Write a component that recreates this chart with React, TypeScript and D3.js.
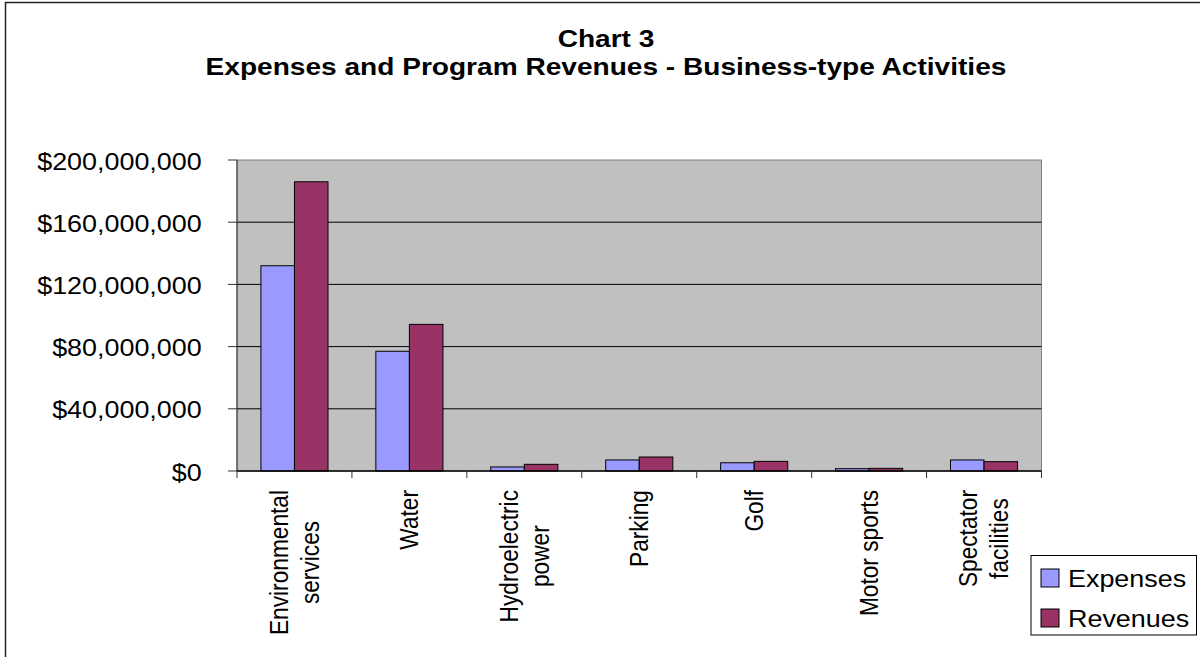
import { useEffect, useRef } from "react";
import * as d3 from "d3";

const categories = [
  "Environmental\nservices",
  "Water",
  "Hydroelectric\npower",
  "Parking",
  "Golf",
  "Motor sports",
  "Spectator\nfacilities",
];
const seriesNames = ["Expenses", "Revenues"];
const expenses = [132000000, 77000000, 2600000, 7100000, 5300000, 1500000, 7100000];
const revenues = [186000000, 94300000, 4300000, 9000000, 6200000, 1700000, 6000000];
const yTicks = [0, 40000000, 80000000, 120000000, 160000000, 200000000];
const titleLines = ["Chart 3", "Expenses and Program Revenues - Business-type Activities"];
const seriesColors = ["#9999FF", "#993366"];

const W = 1200;
const H = 657;
// the original picture is stretched horizontally, so text gets the same squash
const SX = 1.17;
const FONT = "'Liberation Sans', Arial, Helvetica, sans-serif";

export default function App() {
  const svgRef = useRef<SVGSVGElement>(null);

  useEffect(() => {
    if (!svgRef.current) return;
    const svg = d3.select(svgRef.current);
    svg.selectAll("*").remove();

    const plot = { left: 237, right: 1041.5, top: 160, bottom: 471 };
    const values = [expenses, revenues];

    const x = d3.scaleBand<string>().domain(categories).range([plot.left, plot.right]);
    const xs = d3
      .scaleBand<string>()
      .domain(seriesNames)
      .range([0, x.bandwidth()])
      .paddingOuter(0.713);
    const y = d3.scaleLinear().domain([0, 200000000]).range([plot.bottom, plot.top]);

    // Outer chart frame
    svg
      .append("rect")
      .attr("x", 5.5)
      .attr("y", 2.5)
      .attr("width", 1400)
      .attr("height", 900)
      .attr("fill", "#fff")
      .attr("stroke", "#222")
      .attr("stroke-width", 1.5);

    // Title
    titleLines.forEach((t, i) => {
      svg
        .append("g")
        .attr("transform", `translate(606,${47 + i * 27.5}) scale(${SX},1)`)
        .append("text")
        .attr("text-anchor", "middle")
        .attr("font-family", FONT)
        .attr("font-size", 24)
        .attr("font-weight", "bold")
        .attr("fill", "#000")
        .text(t);
    });

    // Plot area
    svg
      .append("rect")
      .attr("x", plot.left)
      .attr("y", plot.top)
      .attr("width", plot.right - plot.left)
      .attr("height", plot.bottom - plot.top)
      .attr("fill", "#C0C0C0")
      .attr("stroke", "#808080")
      .attr("stroke-width", 1);

    // Gridlines
    svg
      .selectAll("line.grid")
      .data(yTicks.filter((t) => t > 0 && t < 200000000))
      .enter()
      .append("line")
      .attr("class", "grid")
      .attr("x1", plot.left)
      .attr("x2", plot.right)
      .attr("y1", (d) => y(d))
      .attr("y2", (d) => y(d))
      .attr("stroke", "#000")
      .attr("stroke-width", 1);

    // Bars
    seriesNames.forEach((name, s) => {
      svg
        .append("g")
        .selectAll("rect")
        .data(categories)
        .enter()
        .append("rect")
        .attr("x", (c) => (x(c) ?? 0) + (xs(name) ?? 0))
        .attr("y", (c, i) => y(values[s][i]))
        .attr("width", xs.bandwidth())
        .attr("height", (c, i) => plot.bottom - y(values[s][i]))
        .attr("fill", seriesColors[s])
        .attr("stroke", "#000")
        .attr("stroke-width", 1);
    });

    // Y axis
    svg
      .append("line")
      .attr("x1", plot.left)
      .attr("x2", plot.left)
      .attr("y1", plot.top)
      .attr("y2", plot.bottom)
      .attr("stroke", "#333")
      .attr("stroke-width", 1);

    const fmt = d3.format("$,");
    yTicks.forEach((t) => {
      svg
        .append("line")
        .attr("x1", plot.left - 9)
        .attr("x2", plot.left)
        .attr("y1", y(t))
        .attr("y2", y(t))
        .attr("stroke", "#333");
      svg
        .append("g")
        .attr("transform", `translate(201.7,${y(t) + 9.5}) scale(${SX},1)`)
        .append("text")
        .attr("text-anchor", "end")
        .attr("font-family", FONT)
        .attr("font-size", 23)
        .attr("fill", "#000")
        .text(fmt(t));
    });

    // X axis
    svg
      .append("line")
      .attr("x1", plot.left)
      .attr("x2", plot.right)
      .attr("y1", plot.bottom)
      .attr("y2", plot.bottom)
      .attr("stroke", "#000")
      .attr("stroke-width", 1.5);

    const edges = categories.map((c) => x(c) ?? 0).concat([plot.right]);
    edges.forEach((ex) => {
      svg
        .append("line")
        .attr("x1", ex)
        .attr("x2", ex)
        .attr("y1", plot.bottom)
        .attr("y2", plot.bottom + 7)
        .attr("stroke", "#333");
    });

    // Rotated category labels, multi-line blocks centred on each other
    const lineGap = 31;
    categories.forEach((c) => {
      const lines = c.split("\n");
      const cx = (x(c) ?? 0) + x.bandwidth() / 2;
      const texts = lines.map((ln) =>
        svg
          .append("g")
          .append("text")
          .attr("text-anchor", "middle")
          .attr("font-family", FONT)
          .attr("font-size", 22.7)
          .attr("dy", "0.33em")
          .attr("fill", "#000")
          .attr("transform", "rotate(-90)")
          .text(ln)
      );
      const maxLen = d3.max(texts, (t) => (t.node() as SVGTextElement).getComputedTextLength()) ?? 0;
      const cy = 490 + maxLen / 2;
      texts.forEach((t, i) => {
        const off = (i - (lines.length - 1) / 2) * lineGap;
        d3.select((t.node() as SVGTextElement).parentNode as SVGGElement).attr(
          "transform",
          `translate(${cx + off},${cy}) scale(${SX},1)`
        );
      });
    });

    // Legend
    const legend = svg.append("g");
    legend
      .append("rect")
      .attr("x", 1031)
      .attr("y", 555.5)
      .attr("width", 165.5)
      .attr("height", 79.5)
      .attr("fill", "#fff")
      .attr("stroke", "#000")
      .attr("stroke-width", 1);
    seriesNames.forEach((name, i) => {
      legend
        .append("rect")
        .attr("x", 1041)
        .attr("y", 569 + i * 40)
        .attr("width", 18)
        .attr("height", 18)
        .attr("fill", seriesColors[i])
        .attr("stroke", "#000")
        .attr("stroke-width", 1);
      legend
        .append("g")
        .attr("transform", `translate(1068,${586.5 + i * 40}) scale(${SX},1)`)
        .append("text")
        .attr("font-family", FONT)
        .attr("font-size", 23)
        .attr("fill", "#000")
        .text(name);
    });
  }, []);

  return (
    <svg
      ref={svgRef}
      width={W}
      height={H}
      style={{ position: "absolute", left: 0, top: 0, background: "#fff" }}
    ></svg>
  );
}
